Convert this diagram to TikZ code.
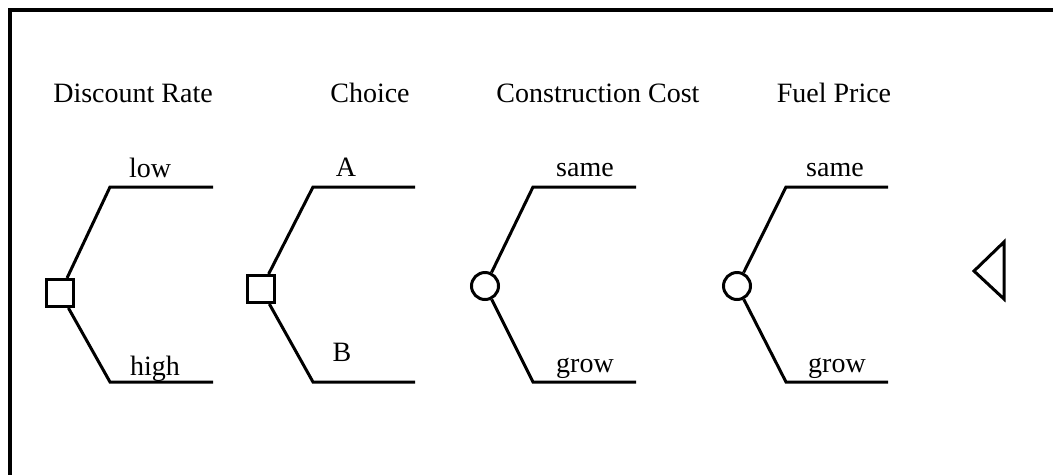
\documentclass[tikz,border=0pt]{standalone}
\usepackage{fontspec}
\setmainfont{Liberation Serif}
\usetikzlibrary{positioning}

\begin{document}
\begin{tikzpicture}[x=1pt, y=-1pt, line width=3pt,
    decision/.style={rectangle, draw, minimum size=27pt, inner sep=0pt},
    chance/.style={circle, draw, minimum size=27pt, inner sep=0pt},
    lbl/.style={font=\fontsize{28}{32}\selectfont, anchor=base, inner sep=0pt}]
      \useasboundingbox (0,0) rectangle (1053,475);
      % Frame (top and left only)
      \draw[line width=3.4pt] (1053,10) -- (10,10) -- (10,475);
      % Trees: node, kink x, end x
      \foreach \n/\x/\y/\typ/\k/\e in {1/60/293/decision/110/213,
                                       2/261/289/decision/313/415,
                                       3/485/286/chance/533/636,
                                       4/737/286/chance/786/888}{
        \node[\typ] (node\n) at (\x,\y) {};
        \coordinate (up\n) at (\k,187);
        \coordinate (upend\n) at (\e,187);
        \coordinate (dn\n) at (\k,382);
        \coordinate (dnend\n) at (\e,382);
        \draw (node\n) -- (up\n) -- (upend\n);
        \draw (node\n) -- (dn\n) -- (dnend\n);
      }
      % Headings
      \node[lbl] (title1) at (133,102) {Discount Rate};
      \node[lbl] (title2) at (370,102) {Choice};
      \node[lbl] (title3) at (598,102) {Construction Cost};
      \node[lbl] (title4) at (834,102) {Fuel Price};
      % Branch labels
      \node[lbl] (lab1a) at (150,177) {low};
      \node[lbl] (lab1b) at (155,375) {high};
      \node[lbl] (lab2a) at (346,176) {A};
      \node[lbl] (lab2b) at (342,361) {B};
      \node[lbl] (lab3a) at (585,176) {same};
      \node[lbl] (lab3b) at (585,372) {grow};
      \node[lbl] (lab4a) at (835,176) {same};
      \node[lbl] (lab4b) at (837,372) {grow};
      % Terminal
      \coordinate (term) at (974,271);
      \draw (term) -- ++(30,-29) -- ++(0,57) -- cycle;
\end{tikzpicture}
\end{document}
